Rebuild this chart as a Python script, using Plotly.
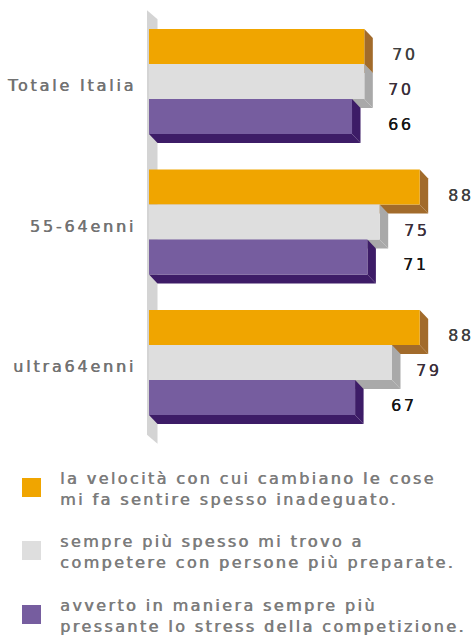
import plotly.graph_objects as go

# ---------------- data ----------------
categories = ["Totale Italia", "55-64enni", "ultra64enni"]
series_names = [
    "la velocità con cui cambiano le cose<br>mi fa sentire spesso inadeguato.",
    "sempre più spesso mi trovo a<br>competere con persone più preparate.",
    "avverto in maniera sempre più<br>pressante lo stress della competizione.",
]
values_velocita = [70, 88, 88]
values_competere = [70, 75, 79]
values_stress = [66, 71, 67]
series_values = [values_velocita, values_competere, values_stress]

# ---------------- style ----------------
front_colors = ["#f0a500", "#dedede", "#765d9f"]
side_colors = ["#a26b2b", "#a9a9a9", "#3d1c67"]
label_colors = ["#404040", "#3b2f3b", "#151515"]
label_xshift = [26, 22, 34]
FONT = "DejaVu Sans"
LEG_COLOR = "#7c7c7c"
CAT_COLOR = "#727272"

W, H = 472, 636
M_L, M_T = 145, 8
PLOT_BOTTOM = 446
zero_px = 149
k_x = 3.076            # px per value unit
pitch = 140.5          # px per category
group0_center = 81.5
bar_w = 0.249
depth_dx_px, depth_dy_px = 8.5, 9

x_min = -(zero_px - M_L) / k_x
x_max = (W - zero_px) / k_x
y_top = (M_T - group0_center) / pitch
y_bot = (PLOT_BOTTOM - group0_center) / pitch
dx = depth_dx_px / k_x
dy = depth_dy_px / pitch

ypos = list(range(len(categories)))

fig = go.Figure()
shapes = []

# back wall
wx0 = -2 / k_x
wy0 = -0.5 - 1 / pitch
wy1 = len(categories) - 0.5 + 2 / pitch
shapes.append(dict(type="path", xref="x", yref="y", layer="below",
                   path=f"M {wx0},{wy0} L {dx},{wy0+dy} L {dx},{wy1+dy} L {wx0},{wy1} Z",
                   fillcolor="#d4d4d4", line=dict(width=0)))

annotations = []
for i, vals in enumerate(series_values):
    off = -1.5 * bar_w + i * bar_w
    fig.add_trace(go.Bar(
        x=vals, y=ypos, orientation="h", width=bar_w, offset=off,
        marker=dict(color=front_colors[i], line=dict(width=0)),
        name=series_names[i], showlegend=False, hoverinfo="x",
    ))
    for j, v in enumerate(vals):
        y0 = j + off
        y1 = y0 + bar_w
        # bottom face
        shapes.append(dict(type="path", xref="x", yref="y", layer="below",
                           path=f"M 0,{y1} L {v},{y1} L {v+dx},{y1+dy} L {dx},{y1+dy} Z",
                           fillcolor=side_colors[i], line=dict(width=0)))
        # side face
        shapes.append(dict(type="path", xref="x", yref="y", layer="below",
                           path=f"M {v},{y0} L {v+dx},{y0+dy} L {v+dx},{y1+dy} L {v},{y1} Z",
                           fillcolor=side_colors[i], line=dict(width=0)))
        annotations.append(dict(
            x=v, y=(y0 + y1) / 2, xref="x", yref="y",
            text=f'<span style="letter-spacing:2.5px">{v}</span>',
            showarrow=False, xanchor="left", yanchor="middle",
            xshift=label_xshift[i], yshift=-8,
            font=dict(family=FONT, size=16, color=label_colors[i],
                      shadow=f"0.25px 0px 0px {label_colors[i]}"),
        ))

# custom legend
plot_w = W - M_L
plot_h = PLOT_BOTTOM - M_T
def px2paper_x(px):
    return (px - M_L) / plot_w
def px2paper_y(py):
    return (PLOT_BOTTOM - py) / plot_h

legend_centers = [487.5, 550.5, 614.5]
for i, cy in enumerate(legend_centers):
    shapes.append(dict(type="rect", xref="paper", yref="paper",
                       x0=px2paper_x(22), x1=px2paper_x(41),
                       y0=px2paper_y(cy + 9.5), y1=px2paper_y(cy - 9.5),
                       fillcolor=front_colors[i], line=dict(width=0)))
    annotations.append(dict(
        x=px2paper_x(58), y=px2paper_y(cy + 1), xref="paper", yref="paper",
        text=f'<span style="letter-spacing:2.4px">{series_names[i]}</span>',
        showarrow=False, xanchor="left", yanchor="middle", align="left",
        font=dict(family=FONT, size=16, color=LEG_COLOR,
                  shadow=f"0.6px 0px 0px {LEG_COLOR}"),
    ))

fig.update_layout(
    width=W, height=H,
    margin=dict(l=M_L, r=0, t=M_T, b=H - PLOT_BOTTOM, autoexpand=False),
    paper_bgcolor="white", plot_bgcolor="white",
    barmode="overlay",
    shapes=shapes, annotations=annotations,
    xaxis=dict(range=[x_min, x_max], visible=False, fixedrange=True),
    yaxis=dict(range=[y_bot, y_top], tickvals=ypos,
               ticktext=[f'<span style="letter-spacing:2.8px">{c}</span>' for c in categories],
               showgrid=False, zeroline=False, showline=False, ticks="",
               ticklabelstandoff=8, ticklabelshift=-4,
               tickfont=dict(family=FONT, size=16, color=CAT_COLOR,
                             shadow=f"0.6px 0px 0px {CAT_COLOR}"),
               fixedrange=True),
    showlegend=False,
)

fig.write_html("out.html", config={"displayModeBar": False},
               post_script="document.body.style.margin='0px';document.body.style.padding='0px';")
